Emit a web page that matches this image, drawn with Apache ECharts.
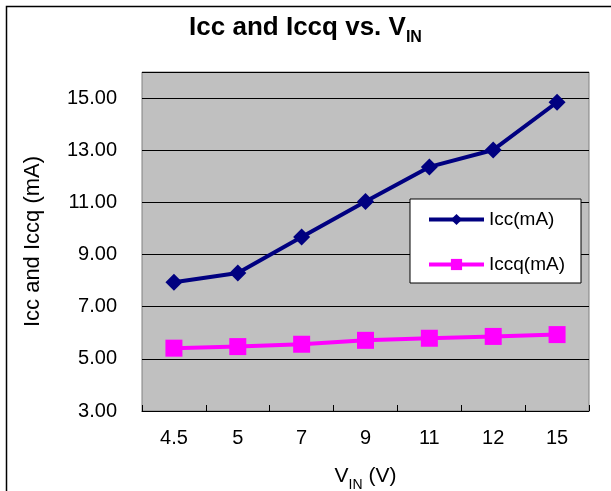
<!DOCTYPE html>
<html>
<head>
<meta charset="utf-8">
<script src="https://cdn.jsdelivr.net/npm/echarts@6/dist/echarts.min.js"></script>
<style>
html,body{margin:0;padding:0;background:#fff;}
#c{width:611px;height:491px;}
</style>
</head>
<body>
<div id="c"></div>
<script>
const categories = ['4.5', '5', '7', '9', '11', '12', '15'];
const iccValues = [7.94, 8.29, 9.67, 11.03, 12.36, 13.01, 14.84];
const iccqValues = [5.41, 5.47, 5.56, 5.71, 5.79, 5.86, 5.93];
const seriesNames = ['Icc(mA)', 'Iccq(mA)'];

const FONT = '"Liberation Sans", Arial, sans-serif';
const chart = echarts.init(document.getElementById('c'), null, {renderer: 'canvas'});
chart.setOption({
  backgroundColor: '#fff',
  animation: false,
  textStyle: {fontFamily: FONT, color: '#000'},
  graphic: [{
    type: 'rect', left: 4, top: 4, z: -1,
    shape: {width: 640, height: 486},
    style: {fill: 'none', stroke: '#000', lineWidth: 1.5}
  }],
  title: {
    text: '{a|Icc and Iccq vs. V}{sub|IN}',
    left: 'center',
    top: 10,
    textStyle: {
      rich: {
        a: {fontFamily: FONT, fontSize: 26, fontWeight: 'bold', color: '#000', lineHeight: 30, verticalAlign: 'top'},
        sub: {fontFamily: FONT, fontSize: 16, fontWeight: 'bold', color: '#000', verticalAlign: 'top', padding: [15,0,0,0]}
      }
    }
  },
  grid: {
    left: 142, right: 22, top: 72, bottom: 80,
    containLabel: false,
    outerBoundsMode: 'none',
    show: true, backgroundColor: '#c0c0c0', borderColor: '#808080', borderWidth: 1
  },
  legend: {
    orient: 'vertical',
    left: 410, top: 199,
    backgroundColor: '#fff',
    borderColor: '#000',
    borderWidth: 1,
    padding: [11, 16, 9, 17],
    itemWidth: 55,
    itemHeight: 14,
    itemGap: 26,
    lineStyle: {width: 4},
    textStyle: {fontFamily: FONT, fontSize: 19, color: '#000'},
    data: seriesNames
  },
  xAxis: {
    type: 'category',
    data: categories,
    boundaryGap: true,
    axisLine: {lineStyle: {color: '#000', width: 1}},
    axisTick: {show: true, inside: true, length: 6, lineStyle: {color: '#000'}},
    axisLabel: {fontFamily: FONT, fontSize: 20, color: '#000', margin: 17},
    name: '{a|V}{sub|IN}{a| (V)}',
    nameLocation: 'middle',
    nameGap: 55,
    nameTextStyle: {
      rich: {
        a: {fontFamily: FONT, fontSize: 21, color: '#000', verticalAlign: 'top', lineHeight: 24},
        sub: {fontFamily: FONT, fontSize: 14, color: '#000', verticalAlign: 'top', padding: [12,0,0,0]}
      }
    }
  },
  yAxis: {
    type: 'value',
    min: 3, max: 16, interval: 2,
    axisLine: {show: false},
    axisTick: {show: false},
    splitLine: {show: true, lineStyle: {color: '#000', width: 1}},
    axisLabel: {fontFamily: FONT, fontSize: 20, color: '#000', margin: 25, showMaxLabel: false,
      formatter: v => v.toFixed(2)},
    name: 'Icc and Iccq (mA)',
    nameLocation: 'middle',
    nameGap: 98,
    nameTextStyle: {fontFamily: FONT, fontSize: 22, color: '#000'}
  },
  series: [
    {
      name: seriesNames[0], type: 'line', data: iccValues,
      symbol: 'diamond', symbolSize: 17,
      lineStyle: {color: '#000080', width: 4},
      itemStyle: {color: '#000080'}
    },
    {
      name: seriesNames[1], type: 'line', data: iccqValues,
      symbol: 'rect', symbolSize: 17,
      lineStyle: {color: '#ff00ff', width: 4},
      itemStyle: {color: '#ff00ff'}
    }
  ]
});
</script>
</body>
</html>
